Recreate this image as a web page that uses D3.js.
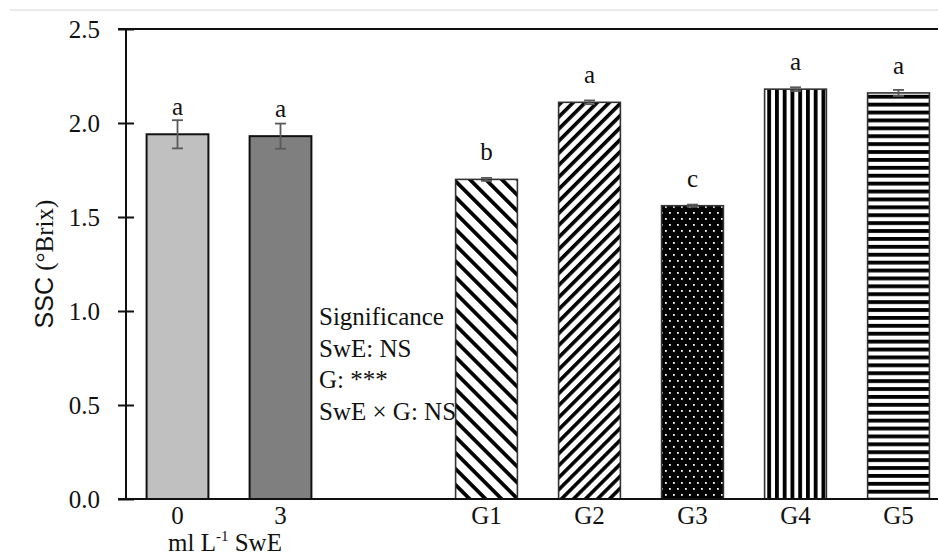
<!DOCTYPE html>
<html>
<head>
<meta charset="utf-8">
<script src="https://cdn.jsdelivr.net/npm/d3@7"></script>
<style>
  html, body { margin: 0; padding: 0; background: #fff; }
  svg { display: block; }
  text { font-family: "Liberation Serif", "DejaVu Serif", serif; fill: #111; }
</style>
</head>
<body>
<svg id="chart" width="938" height="558"></svg>
<script>
// Soluble solids content by seaweed-extract dose and genotype
const categories = ["0", "3", "G1", "G2", "G3", "G4", "G5"];
const means      = [1.94, 1.93, 1.70, 2.11, 1.56, 2.18, 2.16];
const errors     = [0.075, 0.067, 0.008, 0.010, 0.006, 0.010, 0.016];
const letters    = ["a", "a", "b", "a", "c", "a", "a"];
const fills      = ["#c0c0c0", "#7f7f7f", "url(#hatchBack)", "url(#hatchFwd)", "url(#dots)", "url(#vlines)", "url(#hlines)"];
const yTicks     = [0, 0.5, 1.0, 1.5, 2.0, 2.5];
const statLines  = ["Significance", "SwE: NS", "G: ***", "SwE \u00d7 G: NS"];

// one empty slot separates the SwE doses from the genotypes
const slots = ["0", "3", "", "G1", "G2", "G3", "G4", "G5"];

const W = 938, H = 558;
const FS = 25;
const svg = d3.select("#chart");

const x = d3.scaleBand().domain(slots).range([126, 950]).paddingInner(0.4).paddingOuter(0.2);
const y = d3.scaleLinear().domain([0, 2.5]).range([499, 29]);

// fill patterns
const defs = svg.append("defs");
function stripePattern(id, period, thick, angle) {
  const p = defs.append("pattern").attr("id", id)
    .attr("patternUnits", "userSpaceOnUse")
    .attr("width", period).attr("height", period)
    .attr("patternTransform", `rotate(${angle})`);
  p.append("rect").attr("width", period).attr("height", period).attr("fill", "#fff");
  p.append("rect").attr("x", 0).attr("width", thick).attr("height", period).attr("fill", "#000");
}
stripePattern("hatchBack", 11.3, 3.8, -45);
stripePattern("hatchFwd", 8.5, 3.6, 45);
stripePattern("vlines", 7.75, 3.8, 0);
stripePattern("hlines", 7.9, 3.8, 90);
{
  const p = defs.append("pattern").attr("id", "dots")
    .attr("patternUnits", "userSpaceOnUse").attr("width", 8).attr("height", 12);
  p.append("rect").attr("width", 8).attr("height", 12).attr("fill", "#000");
  p.append("rect").attr("x", 1).attr("y", 2).attr("width", 1.8).attr("height", 1.8).attr("fill", "#fff");
  p.append("rect").attr("x", 5).attr("y", 8).attr("width", 1.8).attr("height", 1.8).attr("fill", "#fff");
}

// thin rule across the top of the figure
svg.append("line").attr("x1", 10).attr("x2", W).attr("y1", 10).attr("y2", 10)
  .attr("stroke", "#e4e4e4").attr("stroke-width", 1.5);

// bars
const data = categories.map((c, i) => ({ c, m: means[i], e: errors[i], l: letters[i], f: fills[i], i }));

svg.append("g").selectAll("rect").data(data).join("rect")
  .attr("x", d => x(d.c))
  .attr("y", d => y(d.m))
  .attr("width", x.bandwidth())
  .attr("height", d => y(0) - y(d.m))
  .attr("fill", d => d.f)
  .attr("stroke", d => d.i < 2 ? "#111" : "#333")
  .attr("stroke-width", d => d.i < 2 ? 2 : 1.6);

// error bars
const eb = svg.append("g").attr("stroke", "#5a5a5a").attr("stroke-width", 1.8).attr("fill", "none");
data.forEach(d => {
  const cx = x(d.c) + x.bandwidth() / 2;
  const yt = y(d.m + d.e), yb = y(d.m - d.e);
  eb.append("line").attr("x1", cx).attr("x2", cx).attr("y1", yt).attr("y2", yb);
  eb.append("line").attr("x1", cx - 5.5).attr("x2", cx + 5.5).attr("y1", yt).attr("y2", yt);
  eb.append("line").attr("x1", cx - 5.5).attr("x2", cx + 5.5).attr("y1", yb).attr("y2", yb);
});

// mean-separation letters
svg.append("g").selectAll("text").data(data).join("text")
  .attr("x", d => x(d.c) + x.bandwidth() / 2)
  .attr("y", d => y(d.m) - 19)
  .attr("text-anchor", "middle")
  .attr("font-size", FS)
  .text(d => d.l);

// y axis with ticks crossing the axis line
const yAxis = svg.append("g").attr("transform", "translate(126,0)")
  .call(d3.axisLeft(y).tickValues(yTicks).tickFormat(d3.format(".1f")).tickSize(8).tickPadding(18));
yAxis.select(".domain").remove();
yAxis.selectAll(".tick line").attr("x1", -8).attr("x2", 8).attr("stroke", "#111").attr("stroke-width", 2);
yAxis.selectAll(".tick text")
  .attr("font-family", "Liberation Serif, DejaVu Serif, serif")
  .attr("font-size", FS).attr("fill", "#111");
svg.append("line").attr("x1", 126).attr("x2", 126).attr("y1", y(2.5)).attr("y2", y(0))
  .attr("stroke", "#111").attr("stroke-width", 2);

// top frame line and baseline
svg.append("line").attr("x1", 118).attr("x2", W).attr("y1", y(2.5)).attr("y2", y(2.5))
  .attr("stroke", "#111").attr("stroke-width", 2);
svg.append("line").attr("x1", 118).attr("x2", W).attr("y1", y(0)).attr("y2", y(0))
  .attr("stroke", "#111").attr("stroke-width", 2);

// x axis labels
const xAxis = svg.append("g").attr("transform", `translate(0,${y(0)})`)
  .call(d3.axisBottom(x).tickValues(categories).tickSize(0).tickPadding(7));
xAxis.select(".domain").remove();
xAxis.selectAll(".tick text")
  .attr("font-family", "Liberation Serif, DejaVu Serif, serif")
  .attr("font-size", FS).attr("fill", "#111");

// dose unit label under the SwE bars
const unit = svg.append("text")
  .attr("x", (x("0") + x("3") + x.bandwidth()) / 2 - 4)
  .attr("y", 551)
  .attr("text-anchor", "middle")
  .attr("font-size", FS);
unit.append("tspan").text("ml L");
unit.append("tspan").attr("font-size", 15).attr("dy", -10).text("-1");
unit.append("tspan").attr("dy", 10).text(" SwE");

// y axis title
const title = svg.append("text")
  .attr("transform", `translate(53,${(y(0) + y(2.5)) / 2}) rotate(-90)`)
  .attr("text-anchor", "middle")
  .attr("font-size", 25);
title.append("tspan").attr("font-family", "Liberation Sans, Arial, sans-serif").text("SSC");
title.append("tspan").text(" (\u00b0Brix)");

// ANOVA significance summary
svg.append("g").selectAll("text").data(statLines).join("text")
  .attr("x", 319)
  .attr("y", (d, i) => 325 + i * 31.7)
  .attr("font-size", FS)
  .text(d => d);
</script>
</body>
</html>
